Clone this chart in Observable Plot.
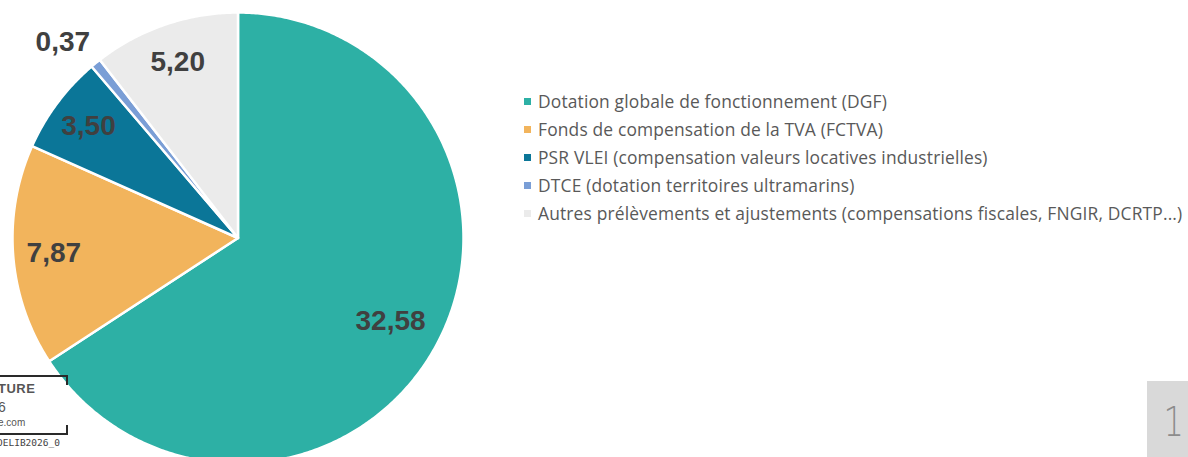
<!DOCTYPE html>
<html>
<head>
<meta charset="utf-8">
<script src="https://cdn.jsdelivr.net/npm/d3@7"></script>
<script src="https://cdn.jsdelivr.net/npm/@observablehq/plot@0.6"></script>
<style>
  html, body { margin: 0; padding: 0; background: #fff; }
  #wrap { position: relative; width: 1188px; height: 457px; overflow: hidden; }
  #chart { position: absolute; left: 0; top: 0; }
  #legend { position: absolute; left: 524px; top: 87px; font-family: "Open Sans", "Noto Sans", sans-serif; font-size: 17.4px; letter-spacing: 0.16px; color: #595959; font-variant-ligatures: none; }
  #legend .row { height: 28px; display: flex; align-items: center; white-space: nowrap; }
  #legend .sw { width: 7px; height: 7px; margin-right: 7px; flex: none; }
  #wm { position: absolute; left: -2px; top: 375px; width: 70px; height: 56px; border-top: 2px solid #2a2a2a; border-bottom: 2px solid #2a2a2a; font-family: "Liberation Sans", Arial, sans-serif; color: #555; }
  #wm .c1 { position: absolute; right: 0; top: 0; width: 2px; height: 8px; background: #2a2a2a; }
  #wm .c2 { position: absolute; right: 0; bottom: 0; width: 2px; height: 8px; background: #2a2a2a; }
  #wm .t1 { position: absolute; left: 0; top: 4px; font-size: 13px; font-weight: bold; letter-spacing: 0.5px; }
  #wm .t2 { position: absolute; left: 0; top: 22px; font-size: 14px; }
  #wm .t3 { position: absolute; left: 0; top: 40px; font-size: 10px; }
  #ref { position: absolute; left: -3px; top: 437px; font-family: "DejaVu Sans Mono", monospace; font-size: 9.5px; color: #444; }
  #page { position: absolute; left: 1147px; top: 381px; width: 41px; height: 76px; background: #d9d9d9; }
  #page span { position: absolute; right: 2px; top: 18px; font-family: "DejaVu Sans", sans-serif; font-weight: 200; font-size: 40px; color: #8c8c8c; transform: scaleX(0.8); }
</style>
</head>
<body>
<div id="wrap">
  <div id="chart"></div>
  <div id="legend"></div>
  <div id="wm"><div class="c1"></div><div class="c2"></div><div class="t1">TURE</div><div class="t2">6</div><div class="t3">e.com</div></div>
  <div id="ref">DELIB2026_0</div>
  <div id="page"><span>1</span></div>
</div>
<script>
// ---- data ----
const categories = [
  "Dotation globale de fonctionnement (DGF)",
  "Fonds de compensation de la TVA (FCTVA)",
  "PSR VLEI (compensation valeurs locatives industrielles)",
  "DTCE (dotation territoires ultramarins)",
  "Autres prélèvements et ajustements (compensations fiscales, FNGIR, DCRTP...)"
];
const values = [32.58, 7.87, 3.50, 0.37, 5.20];
const valueLabels = ["32,58", "7,87", "3,50", "0,37", "5,20"];
const colors = ["#2db0a5", "#f2b45c", "#0b7698", "#7a9ed6", "#ebebeb"];

// ---- layout ----
const W = 1188, H = 457;
const cx = 237.5, cy = 237.5, R = 225.5;

const total = d3.sum(values);
const pie = d3.pie().sort(null).value(d => d)(values);

function pt(a, r) { return {x: cx + r * Math.sin(a), y: cy - r * Math.cos(a)}; }

const sliceMarks = pie.map((p, i) => {
  const pts = [pt(0, 0)];
  const n = Math.max(2, Math.ceil((p.endAngle - p.startAngle) / (Math.PI / 360)));
  for (let k = 0; k <= n; k++) {
    const a = p.startAngle + (p.endAngle - p.startAngle) * k / n;
    pts.push(pt(a, R));
  }
  return Plot.line(pts, {x: "x", y: "y", curve: "linear-closed", fill: colors[i], stroke: "white", strokeWidth: 2.5, strokeLinejoin: "round"});
});

const inside = [], outside = [];
pie.forEach((p, i) => {
  const mid = (p.startAngle + p.endAngle) / 2;
  const share = values[i] / total;
  if (share < 0.03) {
    const q = pt(mid, R * 1.06);
    outside.push({x: q.x, y: q.y, text: valueLabels[i]});
  } else {
    const q = pt(mid, R * (0.835 - 0.1 * share));
    inside.push({x: q.x, y: q.y, text: valueLabels[i]});
  }
});

const labelStyle = {fill: "#404040", fontSize: 28, fontWeight: "bold", fontFamily: "'Liberation Sans', Arial, sans-serif"};

const chart = Plot.plot({
  width: W, height: H,
  margin: 0,
  x: {domain: [0, W], range: [0, W], axis: null},
  y: {domain: [0, H], range: [0, H], axis: null},
  style: {background: "transparent", overflow: "visible"},
  marks: [
    ...sliceMarks,
    Plot.text(inside, {x: "x", y: "y", text: "text", ...labelStyle}),
    Plot.text(outside, {x: "x", y: "y", text: "text", textAnchor: "end", lineAnchor: "bottom", dx: 3, dy: -2, ...labelStyle})
  ]
});
document.getElementById("chart").appendChild(chart);

const legend = document.getElementById("legend");
categories.forEach((c, i) => {
  const row = document.createElement("div");
  row.className = "row";
  const sw = document.createElement("div");
  sw.className = "sw";
  sw.style.background = colors[i];
  const t = document.createElement("span");
  t.textContent = c;
  row.appendChild(sw); row.appendChild(t);
  legend.appendChild(row);
});
</script>
</body>
</html>
